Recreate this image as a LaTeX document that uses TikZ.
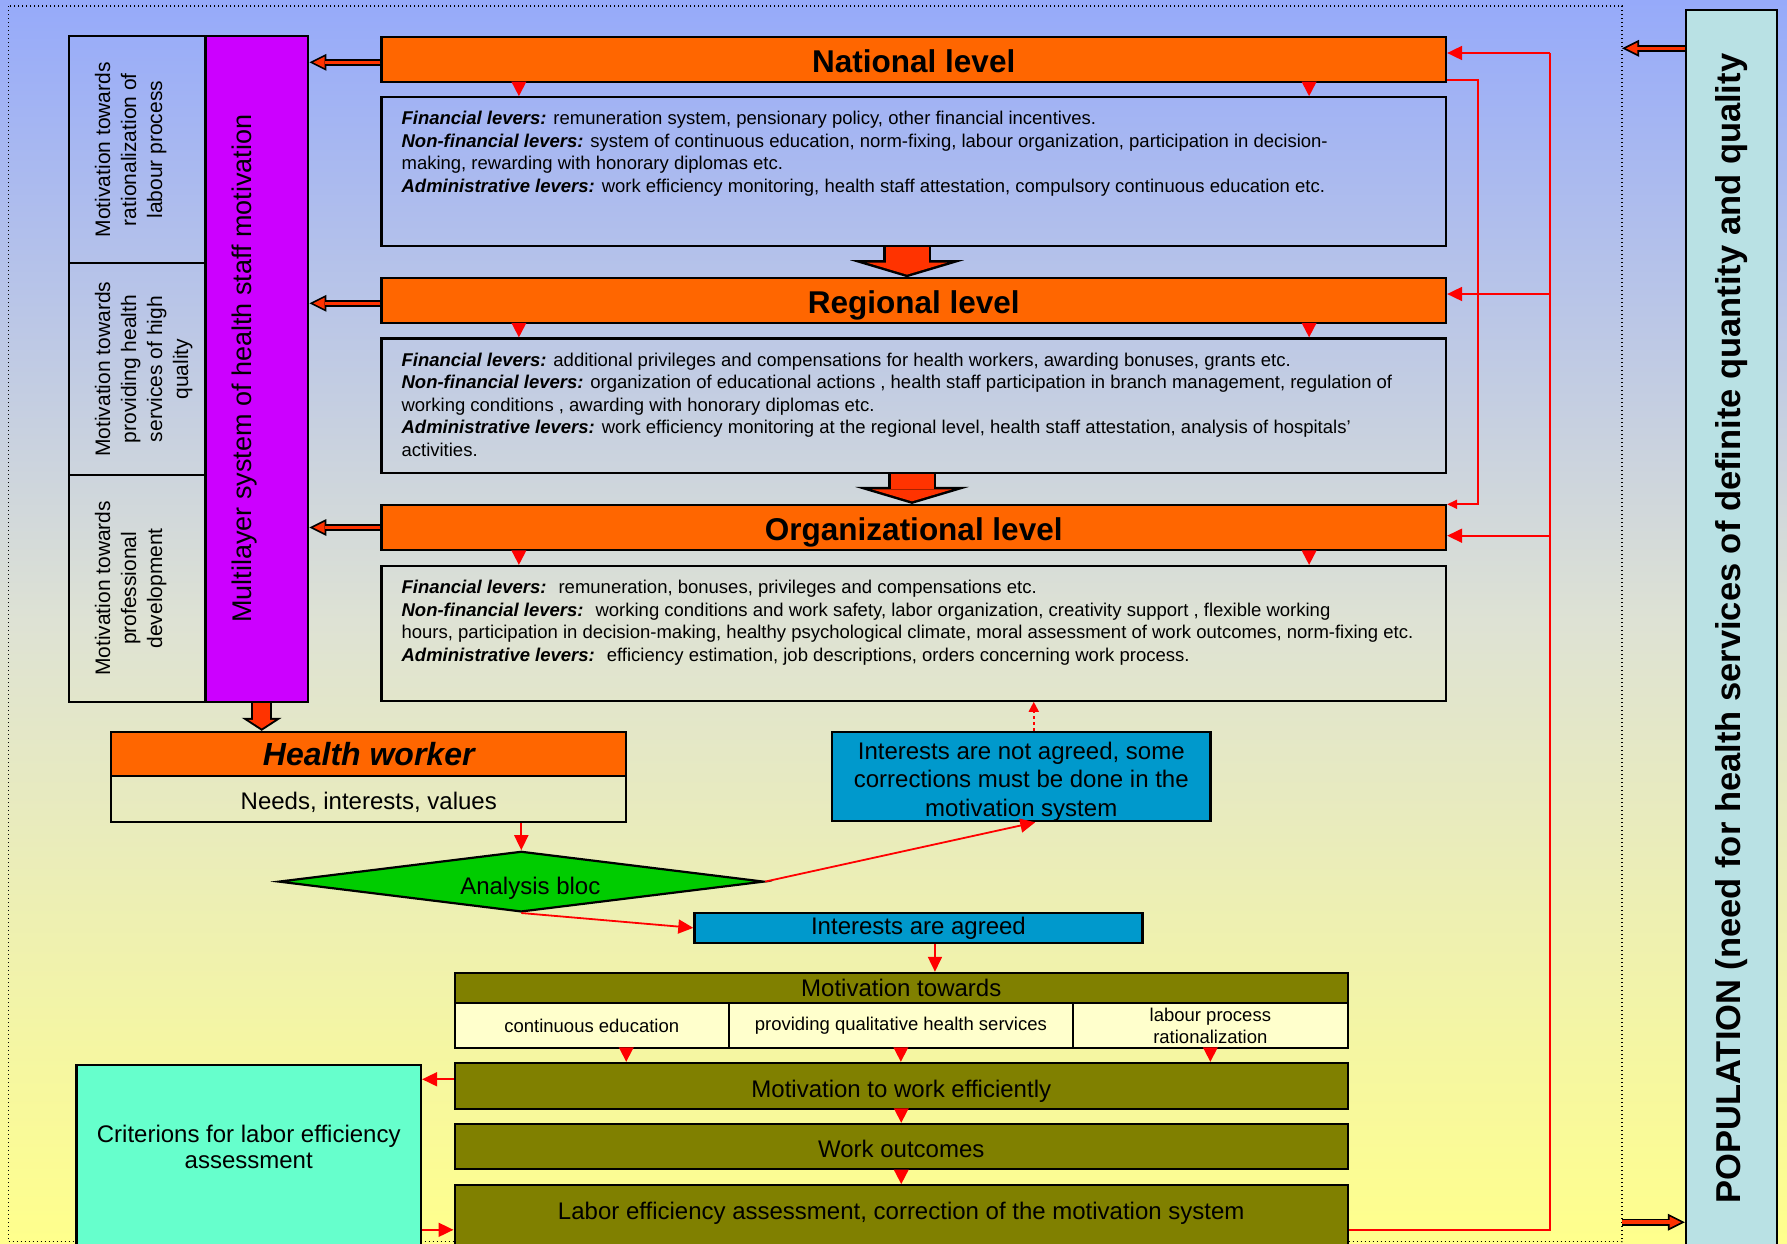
\documentclass[tikz,border=0pt]{standalone}
\usepackage{fontspec}
\setmainfont{Liberation Sans}
\usetikzlibrary{shapes.geometric,arrows.meta,calc}

\definecolor{levorange}{HTML}{FF6600}
\definecolor{arrowfill}{HTML}{FF3300}
\definecolor{multipurple}{HTML}{CC00FF}
\definecolor{analysisgreen}{HTML}{00CC00}
\definecolor{interblue}{HTML}{0099CC}
\definecolor{motolive}{HTML}{808000}
\definecolor{subyellow}{HTML}{FFFFCC}
\definecolor{critgreen}{HTML}{66FFCC}
\definecolor{popcyan}{HTML}{B9E1E4}
\definecolor{bgtop}{RGB}{150,170,250}
\definecolor{bgmid}{RGB}{222,226,212}
\definecolor{bgbot}{RGB}{255,255,140}

\newcommand\leverlabel[1]{\textbf{\textit{#1}}}

\tikzset{
  box/.style={draw, line width=2.2pt, inner sep=0pt},
  levelbox/.style={box, fill=levorange, minimum width=1064.5pt, minimum height=44.4pt, text height=25pt, text depth=0pt, font=\fontsize{31.5}{36}\selectfont\bfseries},
  leverbox/.style={box, minimum width=1064.5pt},
  levertext/.style={anchor=north west, align=left, inner sep=0pt, font=\fontsize{18.5}{22.5}\selectfont},
  sidebox/.style={box, minimum width=136.5pt},
  sidetext/.style={rotate=90, anchor=north, align=center, inner sep=0pt, font=\fontsize{21}{26}\selectfont},
  olivebox/.style={box, fill=motolive, minimum width=893.3pt, font=\fontsize{24}{28}\selectfont},
  subbox/.style={box, fill=subyellow, minimum height=45pt, align=center, font=\fontsize{18.5}{21.8}\selectfont},
  bluebox/.style={box, fill=interblue, align=center, font=\fontsize{24}{28.5}\selectfont},
  dotborder/.style={draw, line width=1.4pt, dash pattern=on 1.4pt off 2.6pt},
  redline/.style={draw=red, line width=1.8pt},
  redarrow/.style={redline, -{Triangle[length=15pt, width=14pt]}},
  redtip/.style={redline, -{Triangle[length=14.5pt, width=14.5pt]}},
  smallfat/.style={draw=arrowfill, line width=3.5pt, -{Triangle[length=11.35pt, width=11.3pt, line width=0pt]}, shorten >=3.9pt,
    preaction={draw=black, line width=7pt, -{Triangle[length=17pt, width=17pt, line width=0pt]}, shorten >=0pt}},
  midfat/.style={draw=arrowfill, line width=17pt, -{Triangle[length=8.6pt, width=26.6pt, line width=0pt]}, shorten >=2.4pt,
    preaction={draw=black, line width=21pt, -{Triangle[length=13pt, width=40pt, line width=0pt]}, shorten >=0pt}},
  bigfat/.style={draw=arrowfill, line width=43pt, -{Triangle[length=11.9pt, width=79.8pt, line width=0pt]}, shorten >=2.6pt,
    preaction={draw=black, line width=48pt, -{Triangle[length=17pt, width=114pt, line width=0pt]}, shorten >=0pt}},
}

\begin{document}
\begin{tikzpicture}[x=1pt, y=-1pt]
\useasboundingbox (0,0) rectangle (1787,1243);
\shade[top color=bgtop, bottom color=bgbot, middle color=bgmid] (0,0) rectangle (1787,1243);
\draw[dotborder] (8.4,6) rectangle (1622,1241.7);

% left column
\node[sidebox, minimum height=227.3pt] (mot1) at (137.25,149.65) {};
\node[sidebox, minimum height=211.7pt] (mot2) at (137.25,369.15) {};
\node[sidebox, minimum height=226.7pt] (mot3) at (137.25,588.35) {};
\node[sidetext] (mot1txt) at (94.8,149.65) {Motivation towards\\rationalization of\\labour process};
\node[sidetext] (mot2txt) at (94.8,369.15) {Motivation towards\\providing health\\services of high\\quality};
\node[sidetext] (mot3txt) at (94.8,588.35) {Motivation towards\\professional\\development};
\node[box, fill=multipurple, minimum width=102.8pt, minimum height=665.7pt] (multi) at (256.9,368.85) {};
\node[rotate=90, inner sep=0pt, font=\fontsize{27}{32}\selectfont] (multitxt) at ($(multi.center)+(-12,0)$) {Multilayer system of health staff motivation};

% levels
\node[levelbox] (nat) at (913.75,59.5) {National level};
\node[leverbox, minimum height=148.7pt] (nattxt) at (913.75,171.65) {};
\node[levertext] (natlev) at ($(nattxt.north west)+(21,15)$) {\leverlabel{Financial levers:} remuneration system, pensionary policy, other financial incentives.\\
\leverlabel{Non-financial levers:} system of continuous education, norm-fixing, labour organization, participation in decision-\\
making, rewarding with honorary diplomas etc.\\
\leverlabel{Administrative levers:} work efficiency monitoring, health staff attestation, compulsory continuous education etc.};

\node[levelbox] (reg) at (913.75,300.5) {Regional level};
\node[leverbox, minimum height=134.8pt] (regtxt) at (913.75,405.9) {};
\node[levertext] (reglev) at ($(regtxt.north west)+(21,15)$) {\leverlabel{Financial levers:} additional privileges and compensations for health workers, awarding bonuses, grants etc.\\
\leverlabel{Non-financial levers:} organization of educational actions , health staff participation in branch management, regulation of\\
working conditions , awarding with honorary diplomas etc.\\
\leverlabel{Administrative levers:} work efficiency monitoring at the regional level, health staff attestation, analysis of hospitals’\\
activities.};

\node[levelbox, minimum height=45pt] (org) at (913.75,527.5) {Organizational level};
\node[leverbox, minimum height=134.7pt] (orgtxt) at (913.75,633.35) {};
\node[levertext] (orglev) at ($(orgtxt.north west)+(21,15)$) {\leverlabel{Financial levers:}~ remuneration, bonuses, privileges and compensations etc.\\
\leverlabel{Non-financial levers:}~ working conditions and work safety, labor organization, creativity support , flexible working\\
hours, participation in decision-making, healthy psychological climate, moral assessment of work outcomes, norm-fixing etc.\\
\leverlabel{Administrative levers:}~ efficiency estimation, job descriptions, orders concerning work process.};

% health worker and analysis
\node[box, fill=levorange, minimum width=514.9pt, minimum height=44.3pt, font=\fontsize{32}{36}\selectfont\bfseries\itshape] (hw) at (368.75,754.05) {Health worker};
\node[box, minimum width=514.9pt, minimum height=45.7pt, text height=20pt, text depth=0pt, font=\fontsize{24}{28}\selectfont] (needs) at (368.75,799.05) {Needs, interests, values};
\node[draw, line width=2.2pt, diamond, aspect=8, inner sep=0pt, fill=analysisgreen, minimum width=485.4pt, minimum height=60.6pt] (ana) at (521.3,881.6) {};
\node[inner sep=0pt, font=\fontsize{24}{28}\selectfont] (anatxt) at ($(ana.center)+(9,7)$) {Analysis bloc};
\node[bluebox, minimum width=378.5pt, minimum height=89.5pt] (noagree) at (1021.25,776.45) {};
\node[align=center, inner sep=0pt, font=\fontsize{24}{28.5}\selectfont] (noagreetxt) at ($(noagree.center)+(0,5)$) {Interests are not agreed, some\\corrections must be done in the\\motivation system};
\node[bluebox, minimum width=448.1pt, minimum height=30.5pt] (agreed) at (918.45,927.85) {Interests are agreed};

% motivation chain
\node[olivebox, minimum height=30.1pt] (motto) at (901.25,987.95) {Motivation towards};
\node[subbox, minimum width=274.3pt] (sub1) at (591.75,1025.5) {continuous education};
\node[subbox, minimum width=343.9pt] (sub2) at (900.85,1025.5) {providing qualitative health services};
\node[subbox, minimum width=275.1pt] (sub3) at (1210.35,1025.5) {labour process\\rationalization};
\node[olivebox, minimum height=45.7pt, text height=22.5pt, text depth=0pt] (work) at (901.25,1085.75) {Motivation to work efficiently};
\node[olivebox, minimum height=45.3pt, text height=22.5pt, text depth=0pt] (outcome) at (901.25,1146.55) {Work outcomes};
\node[olivebox, anchor=north, text height=34.5pt, text depth=40pt] (labor) at (901.25,1184.1) {Labor efficiency assessment, correction of the motivation system};
\node[box, fill=critgreen, minimum width=344.5pt, minimum height=220pt, anchor=north] (crit) at (248.75,1063.6) {};
\node[align=center, inner sep=0pt, anchor=north, font=\fontsize{24}{26.7}\selectfont] (crittxt) at ($(crit.north)+(0,60.8)$) {Criterions for labor efficiency\\assessment};

% population
\node[box, fill=popcyan, minimum width=91pt, minimum height=1237pt] (pop) at (1731.5,628.5) {};
\node[rotate=90, inner sep=0pt, font=\fontsize{34.5}{40}\selectfont\bfseries] (poptxt) at (pop.center) {POPULATION (need for health services of definite quantity and quality};

% block arrows
\draw[smallfat] ($(nat.west)+(0,2.8)$) -- ($(nat.west -| multi.east)+(0,2.8)$);
\draw[smallfat] ($(reg.west)+(0,2.8)$) -- ($(reg.west -| multi.east)+(0,2.8)$);
\draw[smallfat] (org.west) -- (org.west -| multi.east);
\draw[bigfat] ($(nattxt.south)+(-6.75,0)$) -- ($(reg.north)+(-6.75,0)$);
\draw[bigfat] ($(regtxt.south)+(-1.75,0)$) -- ($(org.north)+(-1.75,0)$);
\draw[midfat] ($(multi.south)+(4.8,0)$) -- ($(multi.south |- hw.north)+(4.8,0)$);
\coordinate (dottop) at (1622,48.3);
\coordinate (dotbot) at (1622,1222.2);
\draw[smallfat] (dottop -| pop.west) -- (dottop);
\draw[smallfat] (dotbot) -- (dotbot -| pop.west);

% red tips
\draw[redtip] ($(nat.south west)+(138.5,0)$) -- ($(nattxt.north west)+(138.5,0)$);
\draw[redtip] ($(nat.south east)+(-138,0)$) -- ($(nattxt.north east)+(-138,0)$);
\draw[redtip] ($(reg.south west)+(138.5,0)$) -- ($(regtxt.north west)+(138.5,0)$);
\draw[redtip] ($(reg.south east)+(-138,0)$) -- ($(regtxt.north east)+(-138,0)$);
\draw[redtip] ($(org.south west)+(138.5,0)$) -- ($(orgtxt.north west)+(138.5,0)$);
\draw[redtip] ($(org.south east)+(-138,0)$) -- ($(orgtxt.north east)+(-138,0)$);
\draw[redtip] ($(sub1.south)+(34.5,0)$) -- ($(sub1.south |- work.north)+(34.5,0)$);
\draw[redtip] (sub2.south) -- (sub2.south |- work.north);
\draw[redtip] (sub3.south) -- (sub3.south |- work.north);
\draw[redtip] (work.south) -- (outcome.north);
\draw[redtip] (outcome.south) -- (labor.north);

% red connectors
\draw[redarrow] (needs.south -| ana.north) -- (ana.north);
\draw[redarrow] (ana.east) -- ($(noagree.south)+(14,0)$);
\draw[redarrow] (ana.south) -- (agreed.west);
\draw[redarrow] ($(agreed.south)+(16.5,0)$) -- ($(agreed.south |- motto.north)+(16.5,0)$);
\draw[redline, dash pattern=on 3pt off 3pt, -{Triangle[length=10pt, width=10pt]}] ($(noagree.north)+(12.5,0)$) -- ($(noagree.north |- orgtxt.south)+(12.5,0)$);
\draw[redarrow] ($(work.west)+(0,-6.5)$) -- ($(work.west -| crit.east)+(0,-6.5)$);
\coordinate (fb) at (1550,1229.8);
\draw[redarrow] (fb -| crit.east) -- (fb -| labor.west);
\coordinate (fbtop) at (1550,53);
\coordinate (fbreg) at (1550,294);
\coordinate (fborg) at (1550,535.7);
\draw[redline] (fb -| labor.east) -- (fb) -- (fbtop);
\draw[redarrow] (fbtop) -- (fbtop -| nat.east);
\draw[redarrow] (fbreg) -- (fbreg -| reg.east);
\draw[redarrow] (fborg) -- (fborg -| org.east);
\coordinate (natdown) at (1478,80);
\coordinate (orgin) at (1478,504.3);
\draw[redline, -{Triangle[length=10pt, width=9pt]}] (natdown -| nat.east) -- (natdown) -- (orgin) -- (orgin -| org.east);
\end{tikzpicture}
\end{document}
